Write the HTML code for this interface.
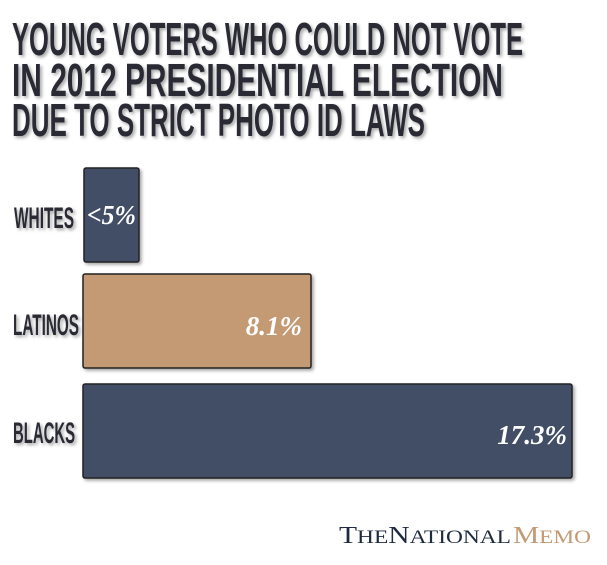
<!DOCTYPE html>
<html><head><style>html,body{margin:0;padding:0;background:#fff}</style></head>
<body>
<svg width="607" height="560" xmlns="http://www.w3.org/2000/svg">
<defs><filter id="s" x="-10%" y="-10%" width="130%" height="130%"><feDropShadow dx="2" dy="2" stdDeviation="1.5" flood-color="#000" flood-opacity="0.35"/></filter></defs>
<g font-family="Liberation Sans Narrow, Liberation Sans, sans-serif" font-weight="bold" fill="#2a2a36" filter="url(#s)">
<text x="12" y="55" font-size="46" textLength="511" lengthAdjust="spacingAndGlyphs">YOUNG VOTERS WHO COULD NOT VOTE</text>
<text x="12" y="96" font-size="46" textLength="491" lengthAdjust="spacingAndGlyphs">IN 2012 PRESIDENTIAL ELECTION</text>
<text x="12" y="136" font-size="46" textLength="413" lengthAdjust="spacingAndGlyphs">DUE TO STRICT PHOTO ID LAWS</text>
<text x="14" y="228" font-size="30" textLength="60" lengthAdjust="spacingAndGlyphs">WHITES</text>
<text x="13" y="335" font-size="30" textLength="66" lengthAdjust="spacingAndGlyphs">LATINOS</text>
<text x="13" y="443" font-size="30" textLength="62" lengthAdjust="spacingAndGlyphs">BLACKS</text>
</g>
<g stroke="#222" stroke-width="1.5" filter="url(#s)">
<rect x="84" y="168" width="55" height="94" rx="2" fill="#434d66"/>
<rect x="83" y="274" width="228" height="94" rx="2" fill="#c49a74"/>
<rect x="83" y="384" width="489" height="94" rx="2" fill="#434d66"/>
</g>
<g font-family="Liberation Serif, serif" font-style="italic" font-weight="bold" fill="#fff" font-size="27">
<text x="87" y="224" textLength="49" lengthAdjust="spacingAndGlyphs">&lt;5%</text>
<text x="302" y="335" text-anchor="end">8.1%</text>
<text x="567" y="444" text-anchor="end">17.3%</text>
</g>
<g font-family="Liberation Serif, serif" font-size="24">
<text x="339" y="543" fill="#1e2a3e" textLength="172" lengthAdjust="spacingAndGlyphs">T<tspan font-size="19">HE</tspan>N<tspan font-size="19">ATIONAL</tspan></text>
<text x="513" y="543" fill="#c49a74" textLength="78" lengthAdjust="spacingAndGlyphs">M<tspan font-size="19">EMO</tspan></text>
</g>
</svg>
</body></html>
